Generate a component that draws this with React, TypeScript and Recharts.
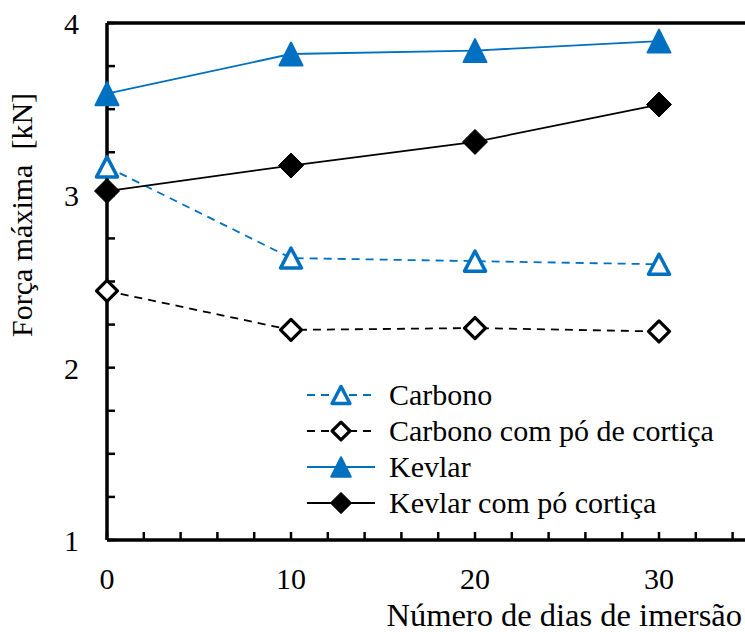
import { LineChart, Line, XAxis, YAxis, ReferenceLine, Legend } from "recharts";

// Força máxima [kN] vs número de dias de imersão
const DAYS = [0, 10, 20, 30];
const CARBONO = [3.165, 2.636, 2.618, 2.6];
const CARBONO_CORTICA = [2.445, 2.219, 2.23, 2.21];
const KEVLAR = [3.59, 3.82, 3.84, 3.895];
const KEVLAR_CORTICA = [3.025, 3.173, 3.31, 3.527];

const X_TICKS = [0, 2, 4, 6, 8, 10, 12, 14, 16, 18, 20, 22, 24, 26, 28, 30, 32, 34];
const X_LABELS = [0, 10, 20, 30];
const Y_TICKS = [1, 1.25, 1.5, 1.75, 2, 2.25, 2.5, 2.75, 3, 3.25, 3.5, 3.75, 4];
const Y_LABELS = [1, 2, 3, 4];

const BLUE = "#0070C0";
const FONT = '"Liberation Serif", "Times New Roman", serif';

const data = DAYS.map((d, i) => ({
  dias: d,
  carbono: CARBONO[i],
  carbonoCortica: CARBONO_CORTICA[i],
  kevlar: KEVLAR[i],
  kevlarCortica: KEVLAR_CORTICA[i],
}));

type Shape = "triOpen" | "diaOpen" | "triFull" | "diaFull";

function marker(shape: Shape, cx: number, cy: number, color: string, k = 1, key?: string) {
  if (shape === "triFull") {
    const h = 11.5 * k;
    const w = 11.5 * k;
    return (
      <path
        key={key}
        d={`M${cx},${cy - h} L${cx + w},${cy + h} L${cx - w},${cy + h} Z`}
        fill={color}
        stroke={color}
        strokeWidth={2}
        strokeLinejoin="round"
      />
    );
  }
  if (shape === "triOpen") {
    const h = 10 * k;
    const w = 10.5 * k;
    return (
      <path
        key={key}
        d={`M${cx},${cy - h} L${cx + w},${cy + h} L${cx - w},${cy + h} Z`}
        fill="#fff"
        stroke={color}
        strokeWidth={3.5}
        strokeLinejoin="round"
      />
    );
  }
  if (shape === "diaFull") {
    const r = 12.5 * k;
    return (
      <path
        key={key}
        d={`M${cx},${cy - r} L${cx + r},${cy} L${cx},${cy + r} L${cx - r},${cy} Z`}
        fill={color}
        stroke={color}
        strokeWidth={1}
        strokeLinejoin="round"
      />
    );
  }
  const r = 10.5 * k;
  return (
    <path
      key={key}
      d={`M${cx},${cy - r} L${cx + r},${cy} L${cx},${cy + r} L${cx - r},${cy} Z`}
      fill="#fff"
      stroke={color}
      strokeWidth={3.2}
      strokeLinejoin="round"
    />
  );
}

const dotOf = (shape: Shape, color: string) => (p: any) =>
  marker(shape, p.cx, p.cy, color, 1, `${shape}-${p.index}`);

const SERIES = [
  { key: "carbono", name: "Carbono", color: BLUE, dash: "8 6", shape: "triOpen" as Shape },
  { key: "carbonoCortica", name: "Carbono com pó de cortiça", color: "#000", dash: "8 6", shape: "diaOpen" as Shape },
  { key: "kevlar", name: "Kevlar", color: BLUE, dash: undefined, shape: "triFull" as Shape },
  { key: "kevlarCortica", name: "Kevlar com pó cortiça", color: "#000", dash: undefined, shape: "diaFull" as Shape },
];

function XTick({ x, y, payload }: any) {
  const v = payload.value;
  return (
    <g>
      <line x1={x} x2={x} y1={y} y2={y - 8} stroke="#000" strokeWidth={2.5} />
      {X_LABELS.includes(v) && (
        <text x={x} y={y + 49} textAnchor="middle" fontFamily={FONT} fontSize={30} fill="#000">
          {v}
        </text>
      )}
    </g>
  );
}

function YTick({ x, y, payload }: any) {
  const v = payload.value;
  return (
    <g>
      <line x1={x} x2={x + 8} y1={y} y2={y} stroke="#000" strokeWidth={2.5} />
      {Y_LABELS.includes(v) && (
        <text x={x - 28} y={y + 11} textAnchor="end" fontFamily={FONT} fontSize={30} fill="#000">
          {v}
        </text>
      )}
    </g>
  );
}

function LegendBox() {
  return (
    <svg width={440} height={150} style={{ display: "block" }}>
      {SERIES.map((s, i) => {
        const cy = 20 + i * 36;
        return (
          <g key={s.key}>
            <line
              x1={7}
              x2={75}
              y1={cy}
              y2={cy}
              stroke={s.color}
              strokeWidth={2}
              strokeDasharray={s.dash}
            />
            {marker(s.shape, 41, cy, s.color, 0.85)}
            <text x={89} y={cy + 10} fontFamily={FONT} fontSize={30} fill="#000">
              {s.name}
            </text>
          </g>
        );
      })}
    </svg>
  );
}

export default function App() {
  return (
    <div
      style={{
        position: "absolute",
        left: 0,
        top: 0,
        width: 745,
        height: 632,
        overflow: "hidden",
        background: "#fff",
      }}
    >
      <LineChart
        width={752}
        height={632}
        data={data}
        margin={{ top: 23, right: 1, left: 0, bottom: 0 }}
      >
        <XAxis
          dataKey="dias"
          type="number"
          domain={[0, 35]}
          ticks={X_TICKS}
          interval={0}
          tickSize={0}
          tickMargin={0}
          tickLine={false}
          tick={<XTick />}
          height={92}
          axisLine={{ stroke: "#000", strokeWidth: 3.5 }}
          label={{
            content: () => (
              <text x={742} y={626} textAnchor="end" fontFamily={FONT} fontSize={32.5} fill="#000">
                Número de dias de imersão
              </text>
            ),
          }}
        />
        <YAxis
          type="number"
          domain={[1, 4]}
          ticks={Y_TICKS}
          interval={0}
          tickSize={0}
          tickMargin={0}
          tickLine={false}
          tick={<YTick />}
          width={107}
          axisLine={{ stroke: "#000", strokeWidth: 3.5 }}
          label={{
            content: () => (
              <text
                x={0}
                y={0}
                transform="translate(32, 215) rotate(-90)"
                textAnchor="middle"
                fontFamily={FONT}
                fontSize={30}
                fill="#000"
                style={{ whiteSpace: "pre" }}
              >
                {"Força máxima  [kN]"}
              </text>
            ),
          }}
        />
        <ReferenceLine y={4} stroke="#000" strokeWidth={3.5} />
        {SERIES.map((s) => (
          <Line
            key={s.key}
            dataKey={s.key}
            name={s.name}
            stroke={s.color}
            strokeWidth={1.8}
            strokeDasharray={s.dash}
            dot={dotOf(s.shape, s.color)}
            activeDot={false}
            isAnimationActive={false}
          />
        ))}
        <Legend
          layout="vertical"
          align="center"
          verticalAlign="middle"
          content={() => <LegendBox />}
          wrapperStyle={{ position: "absolute", left: 300, top: 375, width: 440, height: 150 }}
        />
      </LineChart>
    </div>
  );
}
